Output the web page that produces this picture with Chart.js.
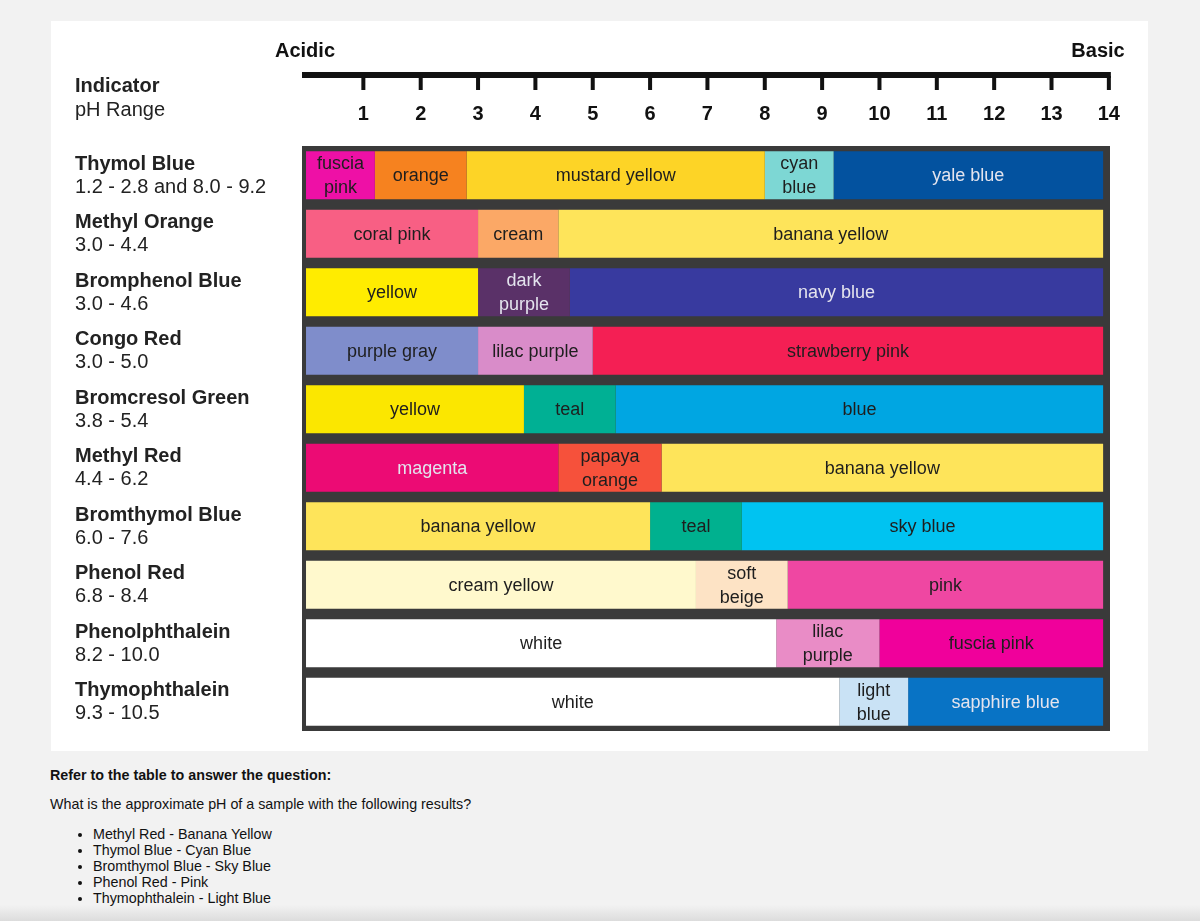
<!DOCTYPE html>
<html>
<head>
<meta charset="utf-8">
<script src="https://cdn.jsdelivr.net/npm/chart.js@4/dist/chart.umd.min.js"></script>
<style>
html,body{margin:0;padding:0;width:1200px;height:921px;overflow:hidden;background:#f2f2f2;font-family:"Liberation Sans",Arial,sans-serif;}
#panel{position:absolute;left:51px;top:21px;width:1097px;height:730px;background:#ffffff;}
#wrap{position:absolute;left:0;top:0;width:1200px;height:760px;}
#q{position:absolute;left:50px;top:767px;color:#111;font-size:14.3px;line-height:16px;}
#q .h{font-weight:bold;margin:0 0 13px 0;}
#q .p{margin:0 0 14px 0;}
#q ul{margin:0;padding:0 0 0 43px;}
#q li{margin:0;}
#shade{position:absolute;left:0;top:905px;width:1200px;height:16px;background:linear-gradient(#f2f2f200,#dcdcdc);}
</style>
</head>
<body>
<div id="panel"></div>
<div id="wrap"><canvas id="c" width="1200" height="760"></canvas></div>
<div id="q">
  <div class="h">Refer to the table to answer the question:</div>
  <div class="p">What is the approximate pH of a sample with the following results?</div>
  <ul>
    <li>Methyl Red - Banana Yellow</li>
    <li>Thymol Blue - Cyan Blue</li>
    <li>Bromthymol Blue - Sky Blue</li>
    <li>Phenol Red - Pink</li>
    <li>Thymophthalein - Light Blue</li>
  </ul>
</div>
<div id="shade"></div>
<script>
// ---------- data ----------
const indicators = ["Thymol Blue","Methyl Orange","Bromphenol Blue","Congo Red","Bromcresol Green","Methyl Red","Bromthymol Blue","Phenol Red","Phenolphthalein","Thymophthalein"];
const pHRanges = ["1.2 - 2.8 and 8.0 - 9.2","3.0 - 4.4","3.0 - 4.6","3.0 - 5.0","3.8 - 5.4","4.4 - 6.2","6.0 - 7.6","6.8 - 8.4","8.2 - 10.0","9.3 - 10.5"];
const segmentEdges = [
  [0, 1.2, 2.8, 8.0, 9.2, 13.9],
  [0, 3.0, 4.4, 13.9],
  [0, 3.0, 4.6, 13.9],
  [0, 3.0, 5.0, 13.9],
  [0, 3.8, 5.4, 13.9],
  [0, 4.4, 6.2, 13.9],
  [0, 6.0, 7.6, 13.9],
  [0, 6.8, 8.4, 13.9],
  [0, 8.2, 10.0, 13.9],
  [0, 9.3, 10.5, 13.9]
];
const colourNames = [
  ["fuscia\npink","orange","mustard yellow","cyan\nblue","yale blue"],
  ["coral pink","cream","banana yellow"],
  ["yellow","dark\npurple","navy blue"],
  ["purple gray","lilac purple","strawberry pink"],
  ["yellow","teal","blue"],
  ["magenta","papaya\norange","banana yellow"],
  ["banana yellow","teal","sky blue"],
  ["cream yellow","soft\nbeige","pink"],
  ["white","lilac\npurple","fuscia pink"],
  ["white","light\nblue","sapphire blue"]
];
const phTicks = [1,2,3,4,5,6,7,8,9,10,11,12,13,14];
const sideLabels = ["Acidic","Basic"];
const headerLabels = ["Indicator","pH Range"];

// ---------- styles ----------
const swatches = [
  ["#ee10a6","#f6821f","#fdd426","#7dd7d4","#03529f"],
  ["#f85f84","#fba866","#fee45a"],
  ["#ffec00","#5a3168","#383a9f"],
  ["#7f8dcb","#d98cc9","#f41f54"],
  ["#fbe700","#00b094","#00a6e2"],
  ["#ec0b74","#f6513b","#fee45a"],
  ["#fee45a","#00b18f","#00c3f1"],
  ["#fff9cd","#fde3c5","#ef47a2"],
  ["#ffffff","#e98cc6","#f0009b"],
  ["#ffffff","#c9e2f5","#0873c5"]
];
const lightText = [
  [false,false,false,false,true],
  [false,false,false],
  [false,true,true],
  [false,false,false],
  [false,false,false],
  [true,false,false],
  [false,false,false],
  [false,false,false],
  [false,false,false],
  [false,false,true]
];
const FONT = '"Liberation Sans", Arial, sans-serif';

const maxSeg = Math.max(...segmentEdges.map(e => e.length - 1));
const datasets = [];
for (let k = 0; k < maxSeg; k++) {
  datasets.push({
    label: 'segment ' + (k + 1),
    data: segmentEdges.map(e => (k < e.length - 1) ? [e[k], e[k + 1]] : null),
    backgroundColor: swatches.map(s => s[k] || 'rgba(0,0,0,0)'),
    borderWidth: 0,
    grouped: false,
    barPercentage: 0.82,
    categoryPercentage: 1.0
  });
}

const boardPlugin = {
  id: 'board',
  beforeDatasetsDraw(chart) {
    const {ctx, chartArea: a} = chart;
    ctx.save();
    ctx.fillStyle = '#3a3a3a';
    ctx.fillRect(a.left, a.top, a.right - a.left, a.bottom - a.top);
    ctx.restore();
  },
  afterDatasetsDraw(chart) {
    const ctx = chart.ctx;
    ctx.save();
    ctx.font = '18px ' + FONT;
    ctx.textAlign = 'center';
    ctx.textBaseline = 'middle';
    chart.data.datasets.forEach((ds, k) => {
      const meta = chart.getDatasetMeta(k);
      meta.data.forEach((el, r) => {
        if (!ds.data[r]) return;
        const name = colourNames[r][k];
        const lines = name.split('\n');
        const cx = (el.x + el.base) / 2;
        ctx.fillStyle = lightText[r][k] ? '#e4e4ee' : '#1e1e1e';
        const lh = 24;
        lines.forEach((ln, i) => {
          ctx.fillText(ln, cx, el.y + 1 + (i - (lines.length - 1) / 2) * lh);
        });
      });
    });
    ctx.restore();
  },
  afterDraw(chart) {
    const ctx = chart.ctx;
    const xs = chart.scales.x, ys = chart.scales.y;
    ctx.save();
    ctx.fillStyle = '#111';
    // ruler
    const x0 = xs.getPixelForValue(xs.min);
    const x14 = xs.getPixelForValue(phTicks[phTicks.length - 1]);
    ctx.fillRect(x0, 72, x14 + 2 - x0, 6);
    ctx.font = 'bold 20px ' + FONT;
    ctx.textAlign = 'center';
    ctx.textBaseline = 'middle';
    phTicks.forEach(v => {
      const px = xs.getPixelForValue(v);
      ctx.fillRect(px - 2, 76, 4, 14);
      ctx.fillText(String(v), px, 114);
    });
    // Acidic / Basic
    ctx.fillText(sideLabels[0], 305, 51);
    ctx.fillText(sideLabels[1], 1098, 51);
    // headers
    ctx.textAlign = 'left';
    ctx.fillStyle = '#222';
    ctx.font = 'bold 20px ' + FONT;
    ctx.fillText(headerLabels[0], 75, 86);
    ctx.font = '20px ' + FONT;
    ctx.fillText(headerLabels[1], 75, 110);
    // indicator names and ranges
    indicators.forEach((nm, i) => {
      const cy = ys.getPixelForValue(i);
      ctx.font = 'bold 20px ' + FONT;
      ctx.fillText(nm, 75, cy - 11);
      ctx.font = '20px ' + FONT;
      ctx.fillText(pHRanges[i], 75, cy + 12);
    });
    ctx.restore();
  }
};

new Chart(document.getElementById('c'), {
  type: 'bar',
  data: { labels: indicators, datasets },
  options: {
    indexAxis: 'y',
    responsive: false,
    animation: false,
    devicePixelRatio: 1,
    layout: { padding: { left: 302, right: 90, top: 146, bottom: 29 } },
    plugins: { legend: { display: false }, tooltip: { enabled: false } },
    scales: {
      x: { type: 'linear', min: -0.07, max: 14.02, display: false },
      y: { type: 'category', display: false, offset: true }
    }
  },
  plugins: [boardPlugin]
});
</script>
</body>
</html>
